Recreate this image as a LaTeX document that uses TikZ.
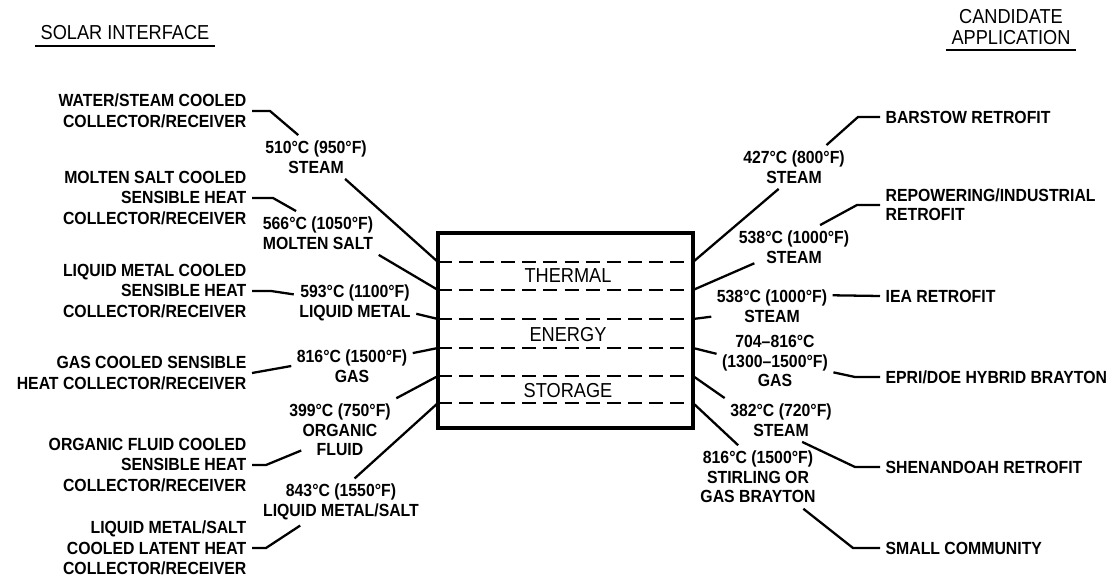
\documentclass[tikz,border=0pt]{standalone}
\usepackage{fontspec}
\setmainfont{Liberation Sans}[FakeStretch=0.9]

\begin{document}
\begin{tikzpicture}[x=0.02cm,y=-0.02cm,
    head/.style={font=\fontsize{11.5}{11.5}\selectfont, align=center, inner sep=3pt},
    zone/.style={font=\fontsize{11.5}{11.5}\selectfont, inner sep=1pt},
    desc/.style={font=\bfseries\fontsize{10}{11.8}\selectfont, align=right, anchor=east, inner sep=3pt},
    temp/.style={font=\bfseries\fontsize{10}{11.2}\selectfont, align=center, inner sep=3pt},
    appl/.style={font=\bfseries\fontsize{10}{11}\selectfont, align=left, anchor=west, inner sep=3pt},
    lead/.style={line width=1.3pt},
    layer/.style={line width=1.3pt, dash pattern=on 8pt off 4pt}]
    \useasboundingbox (0,0) rectangle (1120,584);

    % headings
    \node (solar) [head] at (125,33) {SOLAR INTERFACE};
    \node (cand) [head] at (1011,27) {CANDIDATE\\APPLICATION};
    \draw[lead] (solar.south west) -- (solar.south east);
    \draw[lead] (cand.south west) -- (cand.south east);

    % storage box
    \node (store) [draw, line width=2pt, minimum width=5.1cm, minimum height=3.9cm] at (565.5,330.5) {};
    \foreach \i/\y in {1/262,2/290,3/319,4/348,5/376,6/403} {
      \coordinate (L\i) at (438,\y);
      \coordinate (R\i) at (693,\y);
      \draw[layer] (L\i) -- (R\i);
    }
    \node (thermal) [zone] at (568,276) {THERMAL};
    \node (energy) [zone] at (568,335) {ENERGY};
    \node (storage) [zone] at (568,391) {STORAGE};

    % solar interface
    \node (water) [desc] at (252,111) {WATER/STEAM COOLED\\COLLECTOR/RECEIVER};
    \node (molten) [desc] at (252,198) {MOLTEN SALT COOLED\\SENSIBLE HEAT\\COLLECTOR/RECEIVER};
    \node (liquid) [desc] at (252,291) {LIQUID METAL COOLED\\SENSIBLE HEAT\\COLLECTOR/RECEIVER};
    \node (gas) [desc] at (252,373) {GAS COOLED SENSIBLE\\HEAT COLLECTOR/RECEIVER};
    \node (organic) [desc] at (252,465) {ORGANIC FLUID COOLED\\SENSIBLE HEAT\\COLLECTOR/RECEIVER};
    \node (latent) [desc] at (252,548) {LIQUID METAL/SALT\\COOLED LATENT HEAT\\COLLECTOR/RECEIVER};

    \node (tsteam) [temp] at (316,157) {510°C (950°F)\\STEAM};
    \node (tsalt) [temp] at (318,233) {566°C (1050°F)\\MOLTEN SALT};
    \node (tmetal) [temp] at (355,303) {593°C (1100°F)\\LIQUID METAL};
    \node (tgas) [temp] at (352,366) {816°C (1500°F)\\GAS};
    \node (torganic) [temp] at (340,430) {399°C (750°F)\\ORGANIC\\FLUID};
    \node (tlatent) [temp] at (341,502) {843°C (1550°F)\\LIQUID METAL/SALT};

    % candidate application
    \node (rbarstow) [temp] at (794,167) {427°C (800°F)\\STEAM};
    \node (rrepower) [temp] at (794,247) {538°C (1000°F)\\STEAM};
    \node (riea) [temp] at (772,306) {538°C (1000°F)\\STEAM};
    \node (rhybrid) [temp] at (775,361) {704–816°C\\(1300–1500°F)\\GAS};
    \node (rshen) [temp] at (781,420) {382°C (720°F)\\STEAM};
    \node (rsmall) [temp] at (758,477) {816°C (1500°F)\\STIRLING OR\\GAS BRAYTON};

    \node (barstow) [appl] at (880,117) {BARSTOW RETROFIT};
    \node (repower) [appl] at (880,205) {REPOWERING/INDUSTRIAL\\RETROFIT};
    \node (iea) [appl] at (880,296) {IEA RETROFIT};
    \node (hybrid) [appl] at (880,377) {EPRI/DOE HYBRID BRAYTON};
    \node (shen) [appl] at (880,467) {SHENANDOAH RETROFIT};
    \node (small) [appl] at (880,548) {SMALL COMMUNITY};

    % left leaders
    \draw[lead] (water.east) -- ++(18,0) -- (tsteam.129);
    \draw[lead] (tsteam.323) -- (L1);
    \draw[lead] (molten.east) -- ++(21,0) -- (tsalt.135);
    \draw[lead] (tsalt.south east) -- (L2);
    \draw[lead] (liquid.east) -- ++(19,0) -- (tmetal.172);
    \draw[lead] (tmetal.-10) -- (L3);
    \draw[lead] (gas.east) -- (tgas.west);
    \draw[lead] (tgas.12) -- (L4);
    \draw[lead] (organic.east) -- ++(14,0) -- ([xshift=10pt]torganic.200);
    \draw[lead] (torganic.north east) -- (L5);
    \draw[lead] (latent.east) -- ++(14,0) -- (tlatent.210);
    \draw[lead] (tlatent.60) -- (L6);

    % right leaders
    \draw[lead] (barstow.west) -- ++(-22,0) -- (rbarstow.34);
    \draw[lead] (rbarstow.235) -- (R1);
    \draw[lead] (repower.west) -- ++(-23,0) -- (rrepower.40);
    \draw[lead] ([xshift=12pt]rrepower.195) -- (R2);
    \draw[lead] (iea.west) -- (riea.10);
    \draw[lead] (riea.190) -- (R3);
    \draw[lead] (hybrid.west) -- ++(-25,0) -- (rhybrid.-11);
    \draw[lead] (rhybrid.173) -- (R4);
    \draw[lead] (shen.west) -- ++(-25,0) -- (rshen.-46);
    \draw[lead] (rshen.north west) -- (R5);
    \draw[lead] (small.west) -- ++(-27,0) -- (rsmall.-35);
    \draw[lead] (rsmall.122) -- (R6);
\end{tikzpicture}
\end{document}
